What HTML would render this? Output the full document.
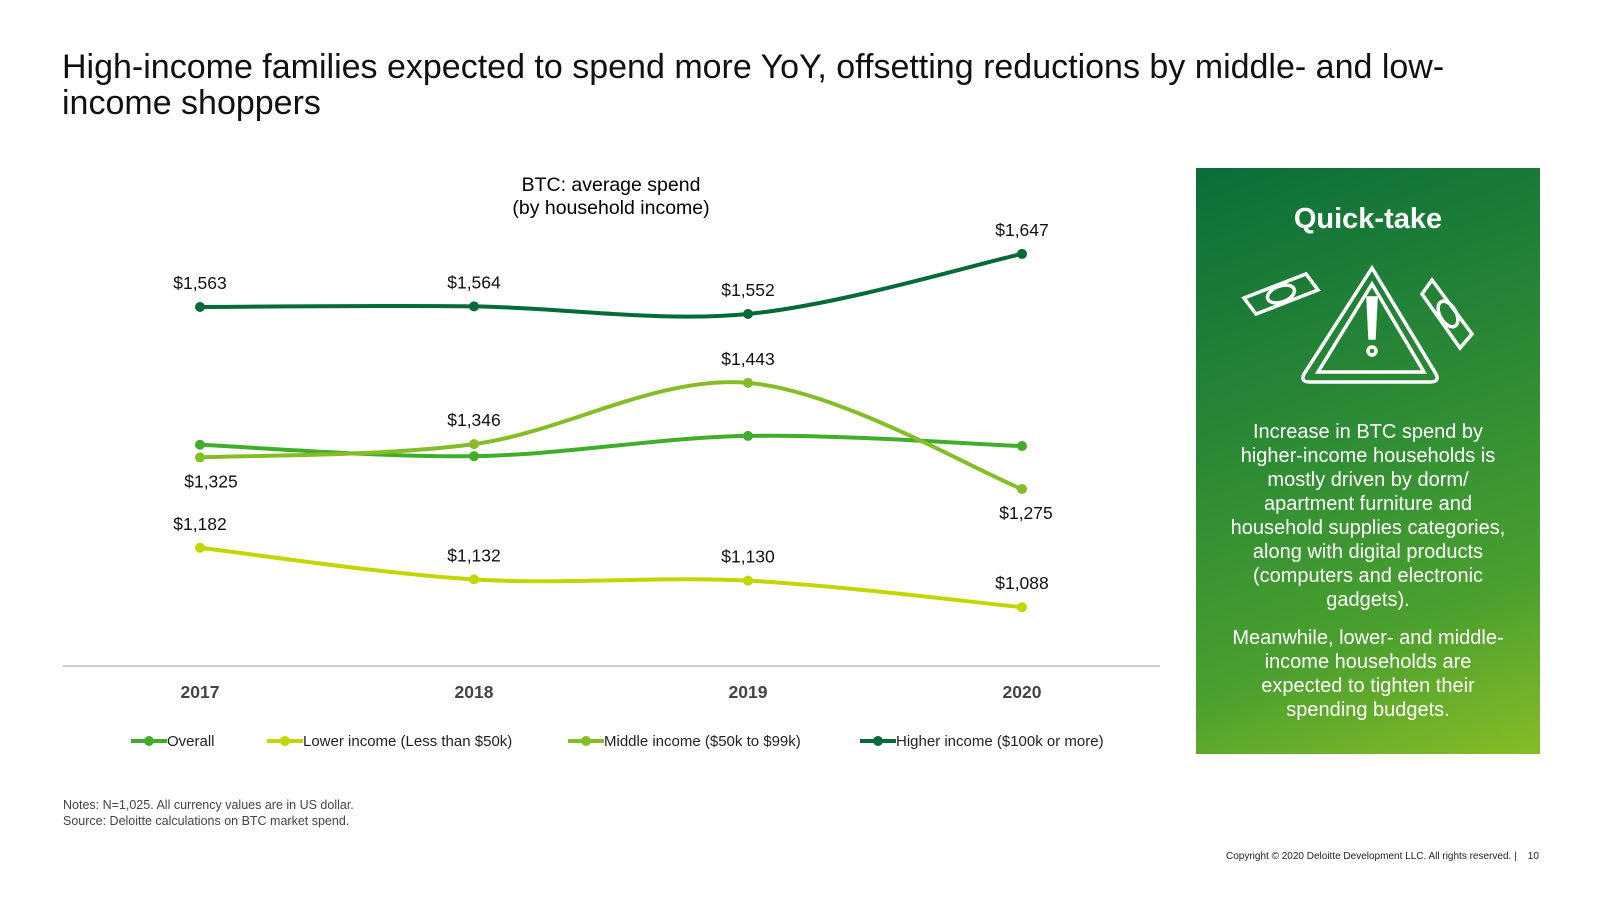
<!DOCTYPE html>
<html><head><meta charset="utf-8">
<style>
body{margin:0;width:1600px;height:900px;background:#fff;font-family:"Liberation Sans",sans-serif;position:relative;overflow:hidden;color:#000}
.abs{position:absolute}
</style></head><body>
<div class="abs" style="left:62px;top:49px;font-size:34px;line-height:36px;color:#111;width:1420px">High-income families expected to spend more YoY, offsetting reductions by middle- and low-income shoppers</div>
<svg class="abs" style="left:0;top:0" width="1180" height="780">
<text x="611" y="191" text-anchor="middle" font-size="19.5">BTC: average spend</text>
<text x="611" y="214" text-anchor="middle" font-size="19.5">(by household income)</text>
<line x1="63" y1="666" x2="1160" y2="666" stroke="#ccc" stroke-width="2"/>
<g id="plot"></g>
<g id="xt"></g>
<g id="legend"></g>
</svg>
<div class="abs" style="left:63px;top:797px;font-size:12.5px;line-height:16px;color:#444">Notes: N=1,025. All currency values are in US dollar.<br>Source: Deloitte calculations on BTC market spend.</div>
<div class="abs" style="left:1226px;top:851px;font-size:10px;color:#222">Copyright © 2020 Deloitte Development LLC. All rights reserved. |&nbsp;&nbsp;&nbsp; 10</div>
<div class="abs" style="left:1196px;top:168px;width:344px;height:586px;background:linear-gradient(160deg,#0b6e3a 0%,#2e8c34 45%,#4ba02e 75%,#86bc25 100%);color:#fff;text-align:center">
<div style="margin-top:35px;font-size:29px;font-weight:bold">Quick-take</div>
<svg width="344" height="134" style="display:block;margin-top:26px" fill="none" stroke="#fff" stroke-width="3.5">
<path d="M176 6 L240 112 Q244 120 234 120 L114 120 Q104 120 108 112 Z"/>
<path d="M176 22 L228 110 L122 110 Z"/>
<path d="M172 36 L180 36 L178 76 L174 76 Z" fill="#fff"/>
<circle cx="176" cy="89" r="4"/>
<path d="M48 36 L110 12 L122 28 L60 52 Z"/><ellipse cx="85" cy="32" rx="14" ry="8" transform="rotate(-20 85 32)"/>
<path d="M236 18 L276 72 L264 86 L226 32 Z"/><ellipse cx="252" cy="52" rx="8" ry="14" transform="rotate(-30 252 52)"/>
</svg>
<div style="margin-top:24px;font-size:20px;line-height:24px;padding:0 32px">Increase in BTC spend by higher-income households is mostly driven by dorm/ apartment furniture and household supplies categories, along with digital products (computers and electronic gadgets).</div>
<div style="margin-top:14px;font-size:20px;line-height:24px;padding:0 32px">Meanwhile, lower- and middle-income households are expected to tighten their spending budgets.</div>
</div>
<script>
const years=["2017","2018","2019","2020"];
const overall=[1345,1327,1359,1343];
const lower=[1182,1132,1130,1088];
const middle=[1325,1346,1443,1275];
const higher=[1563,1564,1552,1647];
const seriesNames=["Overall","Lower income (Less than $50k)","Middle income ($50k to $99k)","Higher income ($100k or more)"];
const NS="http://www.w3.org/2000/svg";
function xs(i){return 200+i*274;}
function ys(v){return 307-(v-1563)*0.632;}
function mk(t,a,p){const e=document.createElementNS(NS,t);for(const k in a)e.setAttribute(k,a[k]);p.appendChild(e);return e;}
const plot=document.getElementById('plot');
const cols=["#3fae2a","#c4d600","#86bc25","#046a38"];
const data=[overall,lower,middle,higher];
const keys=["overall","lower","middle","higher"];
const labelPos=[null,[-1,-1,-1,-1],[1,-1,-1,1],[-1,-1,-1,-1]];
function path(pts){let d="M"+pts[0][0]+" "+pts[0][1];for(let i=0;i<pts.length-1;i++){const p0=pts[Math.max(i-1,0)],p1=pts[i],p2=pts[i+1],p3=pts[Math.min(i+2,pts.length-1)];const c1=[p1[0]+(p2[0]-p0[0])/6,p1[1]+(p2[1]-p0[1])/6],c2=[p2[0]-(p3[0]-p1[0])/6,p2[1]-(p3[1]-p1[1])/6];d+=" C"+c1+" "+c2+" "+p2;}return d;}
data.forEach((s,si)=>{
 const pts=s.map((v,i)=>[xs(i),ys(v)]);
 const pe=mk('path',{d:path(pts),fill:"none",stroke:cols[si],"stroke-width":4},plot);
 
 
 pts.forEach((p,i)=>{
  const c=mk('circle',{cx:p[0],cy:p[1],r:5,fill:cols[si]},plot);
  
  
  if(labelPos[si]){
   const up=labelPos[si][i]<0;
   const t=mk('text',{x:p[0]+(si==2&&i==0?11:si==2&&i==3?4:0),y:up?p[1]-18:p[1]+30,"text-anchor":"middle","font-size":17.5,fill:"#111"},plot);
   t.textContent="$"+s[i].toLocaleString('en-US');
   
   
  }
 });
});
const xt=document.getElementById('xt');
years.forEach((y,i)=>{const t=mk('text',{x:xs(i),y:698,"text-anchor":"middle","font-size":17.5,"font-weight":"bold",fill:"#444"},xt);t.textContent=y;
 
 });
const lg=document.getElementById('legend');
const lx=[131,267,568,860];
seriesNames.forEach((n,i)=>{
 const g=mk('g',{},lg);
 
 
 mk('line',{x1:lx[i],y1:741,x2:lx[i]+36,y2:741,stroke:cols[i],"stroke-width":4},g);
 mk('circle',{cx:lx[i]+18,cy:741,r:5,fill:cols[i]},g);
 const t=mk('text',{x:lx[i]+36,y:746,"font-size":15,fill:"#222"},g);t.textContent=n;
});
</script>
</body></html>
